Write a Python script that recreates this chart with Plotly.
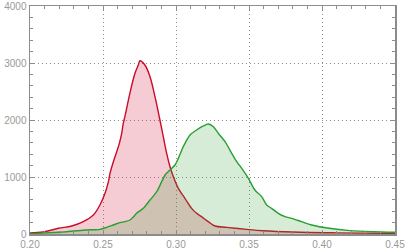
import plotly.graph_objects as go

# Red distribution
red_x = [0.200, 0.209, 0.2194, 0.2286, 0.2365, 0.2434, 0.2479, 0.2514, 0.2537, 0.2548, 0.2571,
         0.2594, 0.2612, 0.2628, 0.2639, 0.2650, 0.2684, 0.2719, 0.2742, 0.2753, 0.2787, 0.2822,
         0.2856, 0.2890, 0.2913, 0.2936, 0.2959, 0.2982, 0.3016, 0.3061, 0.3107, 0.3141, 0.3175,
         0.3221, 0.3267, 0.3347, 0.3484, 0.3596, 0.380, 0.410, 0.450]
red_y = [20, 35, 100, 140, 216, 333, 509, 714, 918, 1064, 1269,
         1444, 1591, 1766, 1942, 2060, 2468, 2819, 2965, 3040, 2965, 2760,
         2409, 2000, 1707, 1415, 1181, 1006, 801, 626, 450, 363, 304,
         216, 140, 117, 82, 58, 35, 20, 10]

# Green distribution
green_x = [0.200, 0.2251, 0.2388, 0.2480, 0.2525, 0.2570, 0.2616, 0.2650, 0.2685, 0.2708,
           0.2730, 0.2776, 0.2822, 0.2868, 0.2902, 0.2925, 0.2959, 0.2993, 0.3016, 0.3050,
           0.3096, 0.3141, 0.3187, 0.3221, 0.3256, 0.3290, 0.3336, 0.3382, 0.3416, 0.3450,
           0.3496, 0.3540, 0.3587, 0.3621, 0.3655, 0.3700, 0.3747, 0.3792, 0.3860, 0.3929,
           0.4050, 0.4190, 0.4350, 0.4500]
green_y = [5, 40, 70, 82, 117, 158, 200, 216, 246, 300,
           363, 450, 596, 742, 918, 1035, 1123, 1210, 1327, 1532,
           1737, 1825, 1895, 1930, 1883, 1766, 1620, 1415, 1269, 1152,
           977, 772, 655, 509, 450, 363, 304, 275, 216, 158,
           100, 60, 40, 30]

x_ticks = [0.20, 0.25, 0.30, 0.35, 0.40, 0.45]
y_ticks = [0, 1000, 2000, 3000, 4000]

fig = go.Figure()
fig.add_trace(go.Scatter(x=red_x, y=red_y, mode="lines", line=dict(color="#cc0a2a", width=1.4, shape="spline", smoothing=1.0),
                         fill="tozeroy", fillcolor="rgba(214,40,70,0.24)", showlegend=False))
fig.add_trace(go.Scatter(x=green_x, y=green_y, mode="lines", line=dict(color="#26a02e", width=1.4, shape="spline", smoothing=0.8),
                         fill="tozeroy", fillcolor="rgba(50,160,50,0.2)", showlegend=False))

axis_common = dict(showline=True, linecolor="#8c8c8c", linewidth=1.5, mirror="allticks",
                   ticks="inside", ticklen=4, tickcolor="#8c8c8c", automargin=False,
                   showgrid=True, gridcolor="#8c8c8c", gridwidth=1, griddash="1px,3px",
                   zeroline=False, tickfont=dict(family="Liberation Sans", size=10, color="#999999"))

fig.update_xaxes(range=[0.20, 0.45], tickvals=x_ticks, ticktext=[f"{v:.2f}" for v in x_ticks],
                 minor=dict(ticks="inside", dtick=0.01, tick0=0.2, ticklen=3, tickcolor="#8c8c8c", showgrid=False),
                 **axis_common)
fig.update_yaxes(range=[0, 4000], tickvals=y_ticks, ticktext=[str(v) for v in y_ticks],
                 minor=dict(ticks="inside", dtick=200, tick0=0, ticklen=3, tickcolor="#8c8c8c", showgrid=False),
                 **axis_common)

fig.update_layout(template="none", width=408, height=252, margin=dict(l=30, r=13, t=6, b=18),
                  plot_bgcolor="white", paper_bgcolor="white", hovermode=False)
fig.write_html("out.html", config={"displayModeBar": False, "staticPlot": True},
               post_script="document.body.style.margin='0';document.body.style.overflow='hidden';")
